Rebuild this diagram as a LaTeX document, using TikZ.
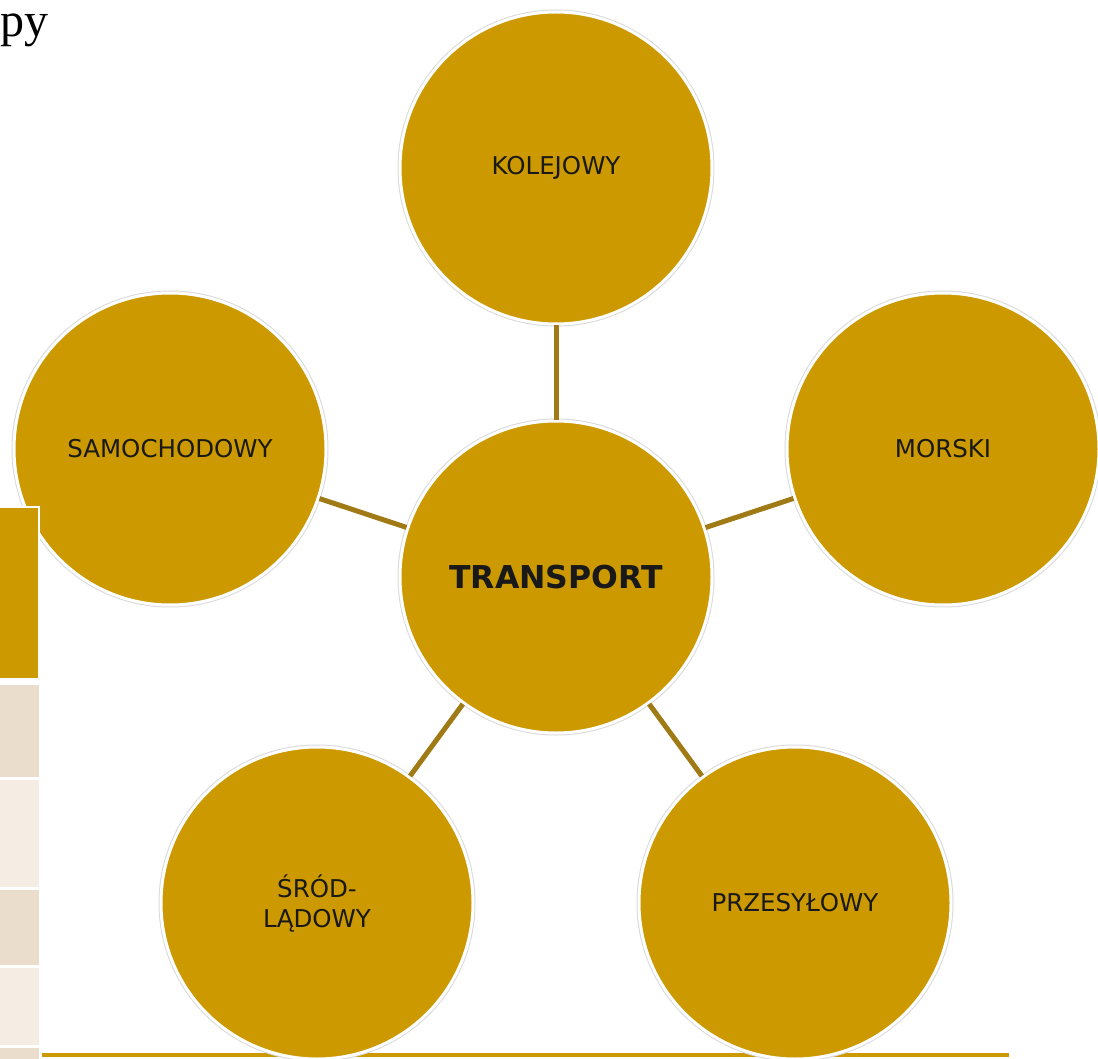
\documentclass[tikz,border=0pt]{standalone}
\usepackage{fontspec}
\setmainfont{Liberation Serif}
\newfontfamily\labelfont{DejaVu Sans}

\definecolor{gold}{HTML}{CC9900}
\definecolor{linkgold}{HTML}{A07A14}
\definecolor{cellbeige}{HTML}{EBDDCB}
\definecolor{cellpale}{HTML}{F5ECE4}

\begin{document}
\begin{tikzpicture}[x=1pt,y=-1pt,
    mode/.style={circle,fill=gold,draw=white,line width=3pt,minimum size=312pt,inner sep=0pt,
                 align=center,text=black!90,font=\labelfont\fontsize{24.5}{30}\selectfont,
                 preaction={draw=black!15,line width=5pt}},
    link/.style={draw=linkgold,line width=5pt}]
\useasboundingbox (0,0) rectangle (1098,1059);
%% title rest
\node[anchor=base west,inner sep=0pt,font=\fontsize{48}{50}\selectfont] (title) at (0,37) {py};
%% base line
\draw[gold,line width=4pt] (42,1055) -- (1009,1055);
%% circles
\node[mode,font=\labelfont\bfseries\fontsize{31.5}{36}\selectfont] (hub) at (556,577) {TRANSPORT};
\node[mode] (rail) at (556,168) {KOLEJOWY};
\node[mode] (road) at (170,449) {SAMOCHODOWY};
\node[mode] (sea) at (943,449) {MORSKI};
\node[mode] (inland) at (317,903) {ŚRÓD-\\LĄDOWY};
\node[mode] (pipe) at (795,903) {PRZESYŁOWY};
\foreach \other in {rail,road,sea,inland,pipe}
        \draw[link] (hub) -- (\other);
%% table on the left
\draw[fill=gold,draw=white,line width=2pt] (-2,507) rectangle (39,679);
\foreach \ya/\yb/\col in {685/777/cellbeige,780/887/cellpale,890/965/cellbeige,968/1045/cellpale,1048/1062/cellbeige}
        \fill[\col] (0,\ya) rectangle (39,\yb);
\end{tikzpicture}
\end{document}
